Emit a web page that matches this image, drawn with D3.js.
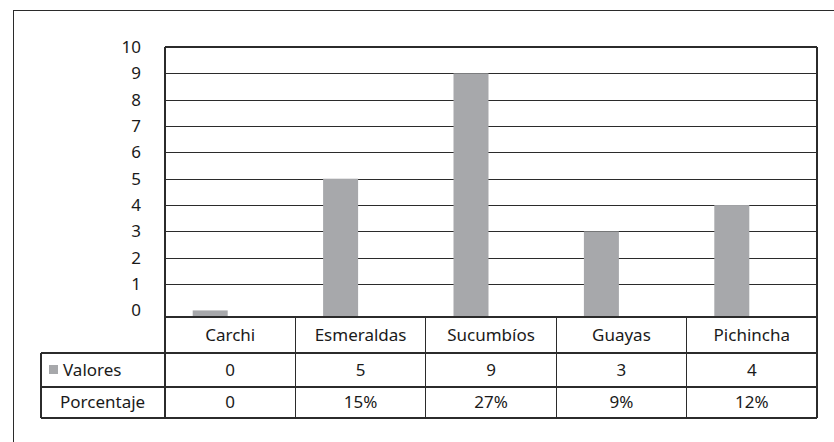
<!DOCTYPE html>
<html>
<head>
<meta charset="utf-8">
<script src="https://cdn.jsdelivr.net/npm/d3@7"></script>
<style>
  body { margin: 0; background: #fff; }
  svg text { font-family: "Noto Sans", "Open Sans", sans-serif; fill: #1a1a1a; }
</style>
</head>
<body>
<div id="chart"></div>
<script>
// data
var categories = ["Carchi", "Esmeraldas", "Sucumbíos", "Guayas", "Pichincha"];
var valores = [0, 5, 9, 3, 4];
var valoresText = ["0", "5", "9", "3", "4"];
var porcentajeText = ["0", "15%", "27%", "9%", "12%"];
var series = ["Valores", "Porcentaje"];
var yTicks = [0, 1, 2, 3, 4, 5, 6, 7, 8, 9, 10];

var width = 834, height = 442;
var plotLeft = 165, plotRight = 817, plotTop = 47, plotBottom = 317;
var rowH = [36, 34, 31];
var lineColor = "#2b2b2b";
var barColor = "#a7a8ab";
var fontSize = "17px";

var svg = d3.select("#chart").append("svg")
    .attr("width", width)
    .attr("height", height);

// outer frame (runs off the right / bottom edge)
svg.append("rect")
    .attr("x", 13.5).attr("y", 10.5)
    .attr("width", 900).attr("height", 600)
    .attr("fill", "none")
    .attr("stroke", lineColor)
    .attr("stroke-width", 1);

var x = d3.scaleBand().domain(categories).range([plotLeft, plotRight]);
var xSub = d3.scaleBand().domain(series).range([27.7, 97.7]);
// axis starts a bit under 0 like the original
var y = d3.scaleLinear().domain([-0.25, 10]).range([plotBottom, plotTop]);

// gridlines
svg.append("g").selectAll("line")
    .data(yTicks.filter(function (d) { return d > 0; }))
    .enter().append("line")
    .attr("x1", plotLeft).attr("x2", plotRight)
    .attr("y1", function (d) { return Math.round(y(d)) + 0.5; })
    .attr("y2", function (d) { return Math.round(y(d)) + 0.5; })
    .attr("stroke", lineColor)
    .attr("stroke-width", 1.2);

// tick labels
svg.append("g").selectAll("text")
    .data(yTicks)
    .enter().append("text")
    .attr("x", 141)
    .attr("y", function (d) { return y(d); })
    .attr("dy", "0.35em")
    .attr("text-anchor", "end")
    .style("font-size", fontSize)
    .text(function (d) { return d; });

// bars (only the Valores series is visible)
svg.append("g").selectAll("rect")
    .data(valores)
    .enter().append("rect")
    .attr("x", function (d, i) { return x(categories[i]) + xSub("Valores"); })
    .attr("width", xSub.bandwidth())
    .attr("y", function (d) { return y(d); })
    .attr("height", function (d) { return y(-0.25) - y(d); })
    .attr("fill", barColor);

// data table
var r1 = plotBottom, r2 = r1 + rowH[0], r3 = r2 + rowH[1], r4 = r3 + rowH[2];
var tbl = svg.append("g")
    .attr("stroke", lineColor)
    .attr("stroke-width", 1.2)
    .attr("shape-rendering", "crispEdges");

tbl.append("line").attr("x1", plotLeft).attr("x2", plotRight).attr("y1", plotTop).attr("y2", plotTop);
tbl.append("line").attr("x1", plotLeft).attr("x2", plotRight).attr("y1", r1).attr("y2", r1);
[r2, r3, r4].forEach(function (r) {
    tbl.append("line").attr("x1", 41).attr("x2", plotRight).attr("y1", r).attr("y2", r);
});
tbl.append("line").attr("x1", 41).attr("x2", 41).attr("y1", r2).attr("y2", r4);
tbl.append("line").attr("x1", plotLeft).attr("x2", plotLeft).attr("y1", plotTop).attr("y2", r4);
tbl.append("line").attr("x1", plotRight).attr("x2", plotRight).attr("y1", plotTop).attr("y2", r4);
categories.forEach(function (c) {
    if (x(c) > plotLeft) {
        tbl.append("line").attr("x1", x(c)).attr("x2", x(c)).attr("y1", r1).attr("y2", r4);
    }
});

var cells = svg.append("g").style("font-size", fontSize).attr("text-anchor", "middle");
function row(texts, ymid) {
    cells.append("g").selectAll("text")
        .data(texts)
        .enter().append("text")
        .attr("x", function (d, i) { return x(categories[i]) + x.bandwidth() / 2; })
        .attr("y", ymid)
        .attr("dy", "0.35em")
        .text(function (d) { return d; });
}
row(categories, (r1 + r2) / 2);
row(valoresText, (r2 + r3) / 2);
row(porcentajeText, (r3 + r4) / 2);

// row headers with legend key
svg.append("rect")
    .attr("x", 49).attr("y", (r2 + r3) / 2 - 5)
    .attr("width", 9).attr("height", 9)
    .attr("fill", barColor);
svg.append("text")
    .attr("x", 63).attr("y", (r2 + r3) / 2).attr("dy", "0.35em")
    .style("font-size", fontSize)
    .text(series[0]);
svg.append("text")
    .attr("x", 60).attr("y", (r3 + r4) / 2).attr("dy", "0.35em")
    .style("font-size", fontSize)
    .text(series[1]);
</script>
</body>
</html>
